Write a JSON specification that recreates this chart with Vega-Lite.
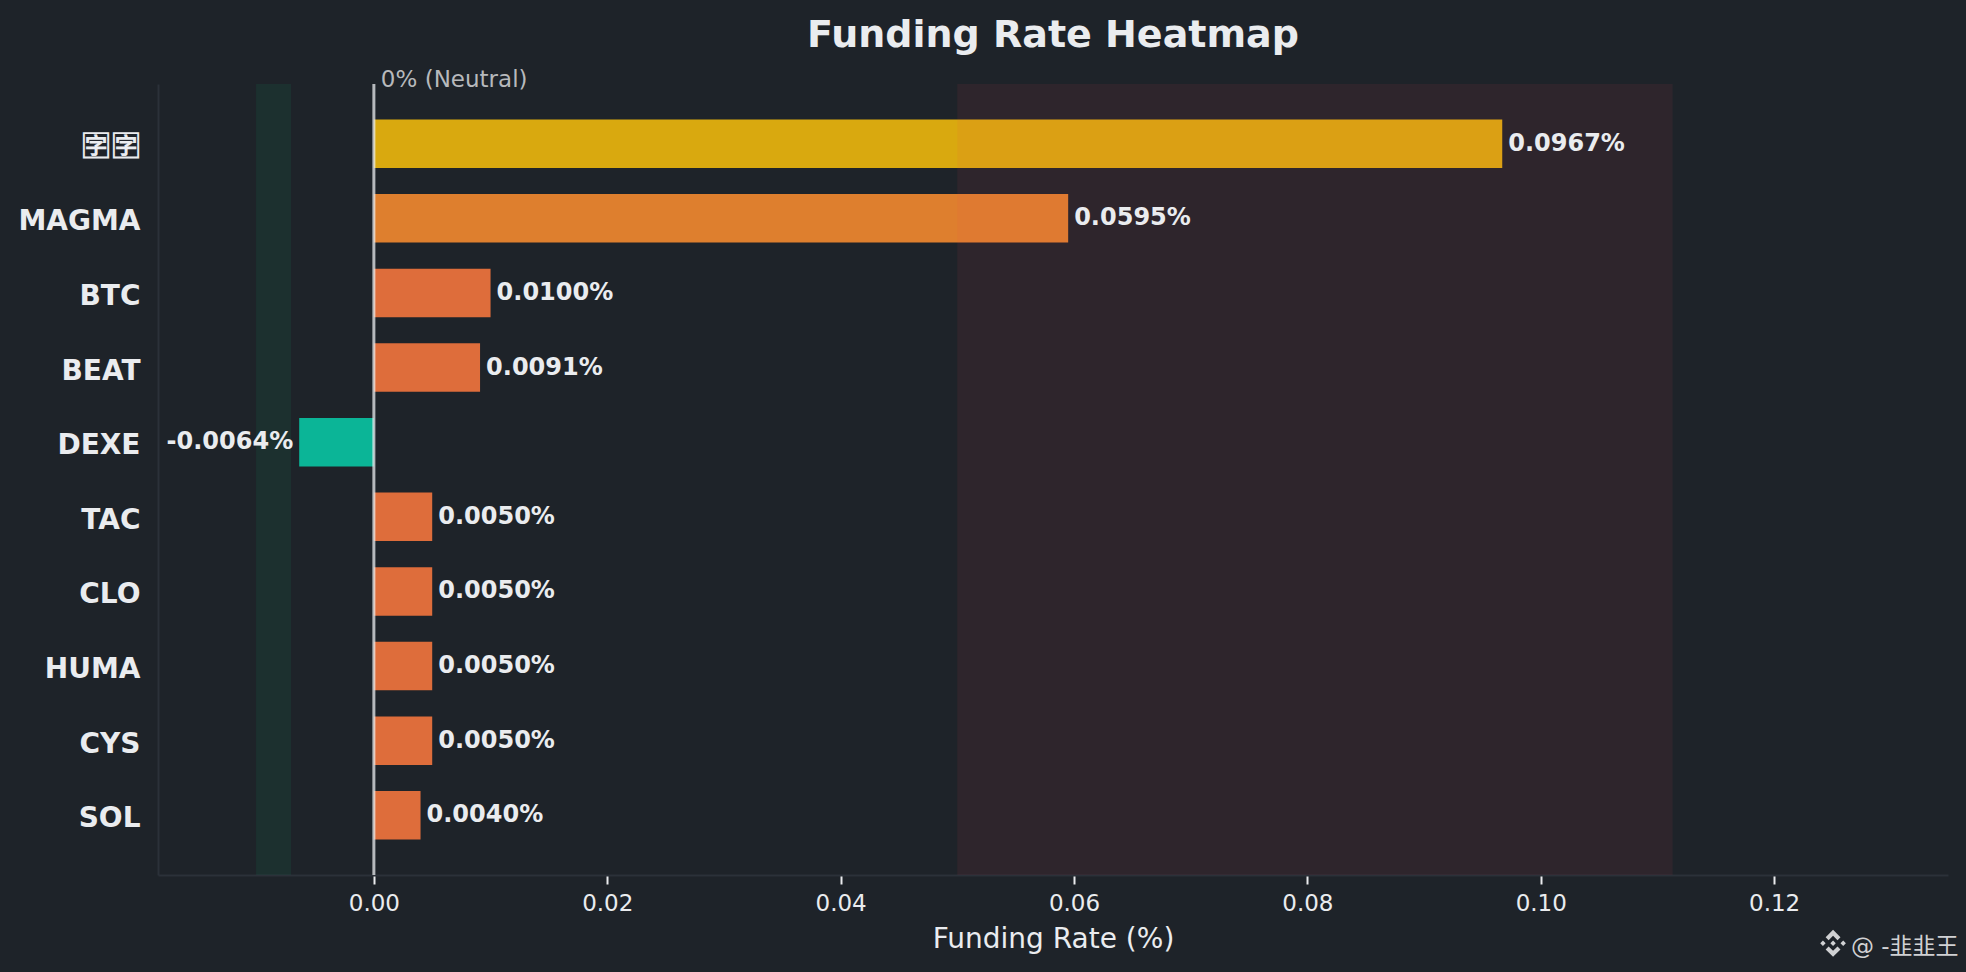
{
  "$schema": "https://vega.github.io/schema/vega-lite/v6.json",
  "width": 1790,
  "height": 791,
  "padding": {"left": 158, "top": 84, "right": 18, "bottom": 97},
  "autosize": {"type": "none"},
  "background": "#1e2329",
  "view": {"stroke": null},
  "title": {"text": "Funding Rate Heatmap", "color": "#eaecef", "font": "DejaVu Sans", "fontSize": 38, "fontWeight": "bold", "anchor": "middle", "offset": 14},
  "datasets": {
    "rates": [
      {"coin": "🈑\u200a🈑", "rate": 0.0967, "label": "0.0967%"},
      {"coin": "MAGMA", "rate": 0.0595, "label": "0.0595%"},
      {"coin": "BTC", "rate": 0.01, "label": "0.0100%"},
      {"coin": "BEAT", "rate": 0.0091, "label": "0.0091%"},
      {"coin": "DEXE", "rate": -0.0064, "label": "-0.0064%"},
      {"coin": "TAC", "rate": 0.005, "label": "0.0050%"},
      {"coin": "CLO", "rate": 0.005, "label": "0.0050%"},
      {"coin": "HUMA", "rate": 0.005, "label": "0.0050%"},
      {"coin": "CYS", "rate": 0.005, "label": "0.0050%"},
      {"coin": "SOL", "rate": 0.004, "label": "0.0040%"}
    ],
    "zones": [
      {"from": -0.0101, "to": -0.0071, "zone": "low"},
      {"from": 0.05, "to": 0.1113, "zone": "high"}
    ]
  },
  "layer": [
    {
      "data": {"name": "rates"},
      "mark": {"type": "bar"},
      "encoding": {
        "y": {
          "field": "coin", "type": "nominal", "sort": null, "title": null,
          "scale": {"paddingInner": 0.35, "paddingOuter": 0.475},
          "axis": {"domain": true, "domainColor": "#2b3139", "domainWidth": 2, "ticks": false, "labelFont": "DejaVu Sans", "labelFontSize": 28, "labelFontWeight": "bold", "labelColor": "#eaecef", "labelPadding": 18, "labelOffset": 4}
        },
        "x": {
          "field": "rate", "type": "quantitative", "title": "Funding Rate (%)",
          "scale": {"domain": [-0.0185, 0.1349], "nice": false, "zero": false},
          "axis": {"values": [0, 0.02, 0.04, 0.06, 0.08, 0.1, 0.12], "format": ".2f", "grid": false, "domain": true, "domainColor": "#2b3139", "domainWidth": 2, "tickColor": "#eaecef", "tickSize": 9, "tickWidth": 2, "labelFont": "DejaVu Sans", "labelFontSize": 23, "labelColor": "#eaecef", "labelPadding": 8, "titleFont": "DejaVu Sans", "titleFontSize": 28, "titleFontWeight": "normal", "titleColor": "#eaecef", "titlePadding": 10}
        },
        "color": {
          "field": "coin", "type": "nominal", "legend": null, "sort": null,
          "scale": {
            "domain": ["🈑\u200a🈑", "MAGMA", "BTC", "BEAT", "DEXE", "TAC", "CLO", "HUMA", "CYS", "SOL"],
            "range": ["#d9a90f", "#de7f2e", "#de6d3b", "#de6d3b", "#0bb597", "#de6d3b", "#de6d3b", "#de6d3b", "#de6d3b", "#de6d3b"]
          }
        }
      }
    },
    {
      "data": {"name": "zones"},
      "mark": {"type": "rect", "opacity": 0.08},
      "encoding": {
        "x": {"field": "from", "type": "quantitative"},
        "x2": {"field": "to"},
        "color": {"field": "zone", "type": "nominal", "legend": null, "scale": {"domain": ["low", "high"], "range": ["#0ecb81", "#f6465d"]}}
      }
    },
    {
      "data": {"values": [{"rate": 0}]},
      "mark": {"type": "rule", "color": "#eaecef", "opacity": 0.75, "strokeWidth": 3},
      "encoding": {"x": {"field": "rate", "type": "quantitative"}}
    },
    {
      "data": {"name": "rates"},
      "transform": [{"filter": "datum.rate >= 0"}],
      "mark": {"type": "text", "align": "left", "dx": 6, "dy": 0, "font": "DejaVu Sans", "fontSize": 24, "fontWeight": "bold", "color": "#eaecef"},
      "encoding": {
        "y": {"field": "coin", "type": "nominal", "sort": null},
        "x": {"field": "rate", "type": "quantitative"},
        "text": {"field": "label"}
      }
    },
    {
      "data": {"name": "rates"},
      "transform": [{"filter": "datum.rate < 0"}],
      "mark": {"type": "text", "align": "right", "dx": -6, "dy": 0, "font": "DejaVu Sans", "fontSize": 24, "fontWeight": "bold", "color": "#eaecef"},
      "encoding": {
        "y": {"field": "coin", "type": "nominal", "sort": null},
        "x": {"field": "rate", "type": "quantitative"},
        "text": {"field": "label"}
      }
    },
    {
      "data": {"values": [{"coin": "🈑\u200a🈑", "rate": 0, "label": "0% (Neutral)"}]},
      "mark": {"type": "text", "align": "left", "baseline": "alphabetic", "dx": 7, "dy": -57, "font": "DejaVu Sans", "fontSize": 23, "color": "#b7b9bc"},
      "encoding": {
        "y": {"field": "coin", "type": "nominal", "sort": null},
        "x": {"field": "rate", "type": "quantitative"},
        "text": {"field": "label"}
      }
    },
    {
      "data": {"values": [{"coin": "SOL", "rate": 0.1358, "label": "@ -韭韭王"}]},
      "mark": {"type": "text", "align": "right", "baseline": "alphabetic", "dy": 139, "font": "DejaVu Sans, Noto Sans CJK SC", "fontSize": 23, "color": "#d0d1d3"},
      "encoding": {
        "y": {"field": "coin", "type": "nominal", "sort": null},
        "x": {"field": "rate", "type": "quantitative"},
        "text": {"field": "label"}
      }
    },
    {
      "data": {"values": [{"coin": "SOL", "rate": 0.12505}]},
      "mark": {"type": "point", "filled": true, "opacity": 1, "color": "#d0d1d3", "size": 729, "yOffset": 128, "shape": "M0,-1L.55,-.45L.33,-.23L0,-.56L-.33,-.23L-.55,-.45ZM0,1L.55,.45L.33,.23L0,.56L-.33,.23L-.55,.45ZM0,-.2L.2,0L0,.2L-.2,0ZM-.75,-.2L-.55,0L-.75,.2L-.95,0ZM.75,-.2L.95,0L.75,.2L.55,0Z"},
      "encoding": {
        "y": {"field": "coin", "type": "nominal", "sort": null},
        "x": {"field": "rate", "type": "quantitative"}
      }
    }
  ],
  "resolve": {"scale": {"color": "independent"}},
  "config": {"axis": {"labelLimit": 400}}
}
